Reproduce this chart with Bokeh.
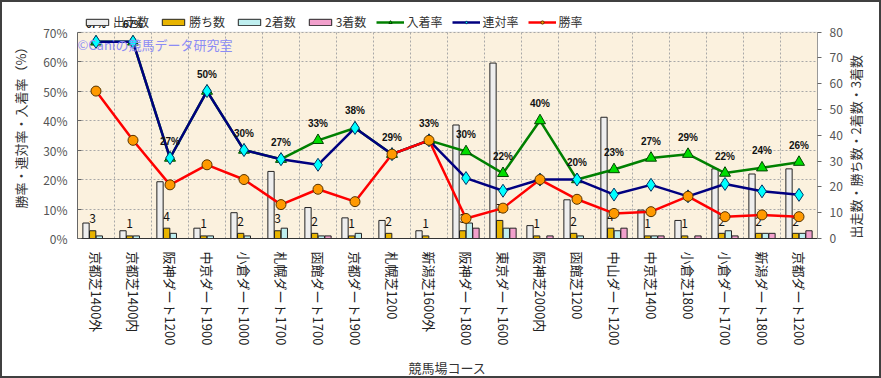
import math
from bokeh.plotting import figure
from bokeh.models import (FactorRange, Range1d, LinearAxis, Legend, LegendItem,
                          LabelSet, Label, ColumnDataSource, FixedTicker,
                          PrintfTickFormatter, BoxAnnotation)
from bokeh.transform import dodge
from bokeh.core.properties import value
from bokeh.embed import file_html
from bokeh.resources import INLINE

# ---------------- data ----------------
courses = ["京都芝1400外", "京都芝1400内", "阪神ダート1200", "中京ダート1900",
           "小倉ダート1000", "札幌ダート1700", "函館ダート1700", "京都ダート1900",
           "札幌芝1200", "新潟芝1600外", "阪神ダート1800", "東京ダート1600",
           "阪神芝2000内", "函館芝1200", "中山ダート1200", "中京芝1400",
           "小倉芝1800", "小倉ダート1700", "新潟ダート1800", "京都ダート1200"]
runs    = [6, 3, 22, 4, 10, 26, 12, 8, 7, 3, 44, 68, 5, 15, 47, 11, 7, 27, 25, 27]
wins    = [3, 1, 4, 1, 2, 3, 2, 1, 2, 1, 3, 7, 1, 2, 4, 1, 1, 2, 2, 2]
seconds = [1, 1, 2, 1, 1, 4, 1, 2, 0, 0, 6, 4, 0, 1, 3, 1, 0, 3, 2, 2]
thirds  = [0, 0, 0, 0, 0, 0, 1, 0, 0, 0, 4, 4, 1, 0, 4, 1, 1, 1, 2, 3]
win_rate    = [50.0, 33.3, 18.2, 25.0, 20.0, 11.5, 16.7, 12.5, 28.6, 33.3,
               6.8, 10.3, 20.0, 13.3, 8.5, 9.1, 14.3, 7.4, 8.0, 7.4]
rentai_rate = [66.7, 66.7, 27.3, 50.0, 30.0, 26.9, 25.0, 37.5, 28.6, 33.3,
               20.5, 16.2, 20.0, 20.0, 14.9, 18.2, 14.3, 18.5, 16.0, 14.8]
place_rate  = [66.7, 66.7, 27.3, 50.0, 30.0, 26.9, 33.3, 37.5, 28.6, 33.3,
               29.5, 22.1, 40.0, 20.0, 23.4, 27.3, 28.6, 22.2, 24.0, 25.9]
pct_ticks = [0, 10, 20, 30, 40, 50, 60, 70]
cnt_ticks = [0, 10, 20, 30, 40, 50, 60, 70, 80]
PCT_MAX, CNT_MAX = 70, 80

FONT = "Noto Sans CJK JP"

src = ColumnDataSource(dict(
    course=courses, runs=runs, wins=wins, seconds=seconds, thirds=thirds,
    win_rate=win_rate, rentai_rate=rentai_rate, place_rate=place_rate,
    place_label=[f"{round(v)}%" for v in place_rate],
    wins_label=[str(v) for v in wins],
))

# frame spans y=10..242 on the page; the data area (0..70%) spans y=32..242
FRAME_H, DATA_H = 232, 210
p = figure(width=881, height=378, x_range=FactorRange(*courses),
           y_range=Range1d(0, PCT_MAX * FRAME_H / DATA_H),
           output_backend="svg", toolbar_location=None,
           min_border_left=75, min_border_right=66, min_border_top=8,
           min_border_bottom=134)
p.styles = {"border": "2px solid #404040"}
p.x_range.range_padding = 0
p.extra_y_ranges = {"count": Range1d(0, CNT_MAX * FRAME_H / DATA_H)}

p.background_fill_color = "white"
p.border_fill_color = "white"
p.outline_line_color = None

# cream plotting area
p.add_layout(BoxAnnotation(bottom=0, top=PCT_MAX, fill_color="#FBF1DE",
                           fill_alpha=1, line_color="#BBBBBB", line_width=1,
                           level="image"))

# grid
p.xgrid.visible = False
p.ygrid.ticker = FixedTicker(ticks=pct_ticks)
p.ygrid.grid_line_color = "#A8A8A8"
p.ygrid.grid_line_dash = "2 2"
p.segment(x0=dodge("course", 0.5, range=p.x_range), y0=0,
          x1=dodge("course", 0.5, range=p.x_range), y1=PCT_MAX, source=src,
          line_color="#A8A8A8", line_dash="2 2", line_width=1)

# axes
p.yaxis.ticker = FixedTicker(ticks=pct_ticks)
p.yaxis.bounds = (0, PCT_MAX)
p.yaxis.formatter = PrintfTickFormatter(format="%d%%")
p.yaxis.axis_label = "勝率・連対率・入着率（%）"
p.yaxis.axis_line_color = "#666666"
p.yaxis.major_tick_in = 4
p.yaxis.major_tick_out = 0
p.yaxis.major_tick_line_color = "#666666"
p.yaxis.minor_tick_line_color = None
p.yaxis.major_label_standoff = 10
p.yaxis.axis_label_standoff = 10

ax_r = LinearAxis(y_range_name="count", ticker=FixedTicker(ticks=cnt_ticks),
                  axis_label="出走数・勝ち数・2着数・3着数", bounds=(0, CNT_MAX))
ax_r.axis_line_color = "#999999"
ax_r.major_tick_in = 0
ax_r.major_tick_out = 4
ax_r.major_tick_line_color = "#666666"
ax_r.minor_tick_line_color = None
ax_r.major_label_standoff = 8
ax_r.axis_label_standoff = 10
ax_r.axis_label_orientation = math.pi / 2
ax_r.axis_label_align = "start"
p.add_layout(ax_r, "right")

p.xaxis.axis_label = "競馬場コース"
p.xaxis.major_label_orientation = -math.pi / 2
p.xaxis.axis_line_color = "#333333"
p.xaxis.major_tick_line_color = None
p.xaxis.major_label_standoff = 7
p.xaxis.axis_label_standoff = 10

for ax in [p.yaxis[0], ax_r, p.xaxis[0]]:
    ax.major_label_text_font = FONT
    ax.major_label_text_font_size = "12px"
    ax.major_label_text_color = "#555555"
    ax.axis_label_text_font = FONT
    ax.axis_label_text_font_size = "13px"
    ax.axis_label_text_font_style = "normal"
    ax.axis_label_text_color = "#333333"
p.xaxis.major_label_text_color = "#222222"
p.xaxis.major_label_text_font_size = "13px"

# bars
bw = 0.17
r_runs = p.vbar(x=dodge("course", -0.27, range=p.x_range), top="runs", width=bw,
                y_range_name="count", source=src, fill_color="#EEEEEE",
                line_color="#222222", line_width=1)
r_wins = p.vbar(x=dodge("course", -0.09, range=p.x_range), top="wins", width=bw,
                y_range_name="count", source=src, fill_color="#E8B400",
                line_color="#222222", line_width=1)
r_sec = p.vbar(x=dodge("course", 0.09, range=p.x_range), top="seconds", width=bw,
               y_range_name="count", source=src, fill_color="#BFEFF0",
               line_color="#222222", line_width=1)
r_thr = p.vbar(x=dodge("course", 0.27, range=p.x_range), top="thirds", width=bw,
               y_range_name="count", source=src, fill_color="#F2A0CC",
               line_color="#222222", line_width=1)

p.text(x=dodge("course", -0.09, range=p.x_range), y="wins", text="wins_label",
       y_range_name="count", source=src, text_font=value(FONT),
       text_font_size="12px", text_color="#111111", text_align="center",
       text_baseline="middle", y_offset=-12)

# lines
g_l = p.line("course", "place_rate", source=src, line_color="#008000", line_width=2.5)
g_m = p.scatter("course", "place_rate", source=src, marker="triangle", size=11,
                fill_color="#00DD00", line_color="#004400", line_width=1)
b_l = p.line("course", "rentai_rate", source=src, line_color="#000080", line_width=2.5)
b_m = p.scatter("course", "rentai_rate", source=src, marker="diamond", size=13,
                fill_color="#00FFFF", line_color="#003366", line_width=1)
r_l = p.line("course", "win_rate", source=src, line_color="#FF0000", line_width=2.5)
r_m = p.scatter("course", "win_rate", source=src, marker="circle", size=10,
                fill_color="#FF9900", line_color="#553300", line_width=1)

labels = LabelSet(x="course", y="place_rate", text="place_label", source=src,
                  y_offset=17, text_align="center", text_baseline="middle",
                  text_font=value("Liberation Sans"), text_font_size="10px",
                  text_font_style="bold", text_color="#111111")
p.add_layout(labels)

wm = Label(x=0, y=194, x_units="screen", y_units="screen",
           text="©Caniの競馬データ研究室", text_font=FONT,
           text_font_size="13px", text_color="#8C8CF5", text_baseline="middle")
p.add_layout(wm)

legend = Legend(items=[
    LegendItem(label="出走数", renderers=[r_runs]),
    LegendItem(label="勝ち数", renderers=[r_wins]),
    LegendItem(label="2着数", renderers=[r_sec]),
    LegendItem(label="3着数", renderers=[r_thr]),
    LegendItem(label="入着率", renderers=[g_l, g_m]),
    LegendItem(label="連対率", renderers=[b_l, b_m]),
    LegendItem(label="勝率", renderers=[r_l, r_m]),
], orientation="horizontal", location=(6, 208))
legend.label_text_font = FONT
legend.label_text_font_size = "12px"
legend.label_text_color = "#333333"
legend.glyph_width = 28
legend.glyph_height = 8
legend.label_height = 8
legend.label_standoff = 2
legend.spacing = 10
legend.padding = 0
legend.margin = 0
legend.border_line_color = None
legend.background_fill_alpha = 0
p.add_layout(legend)

open("out.html", "w").write(file_html(p, INLINE))
